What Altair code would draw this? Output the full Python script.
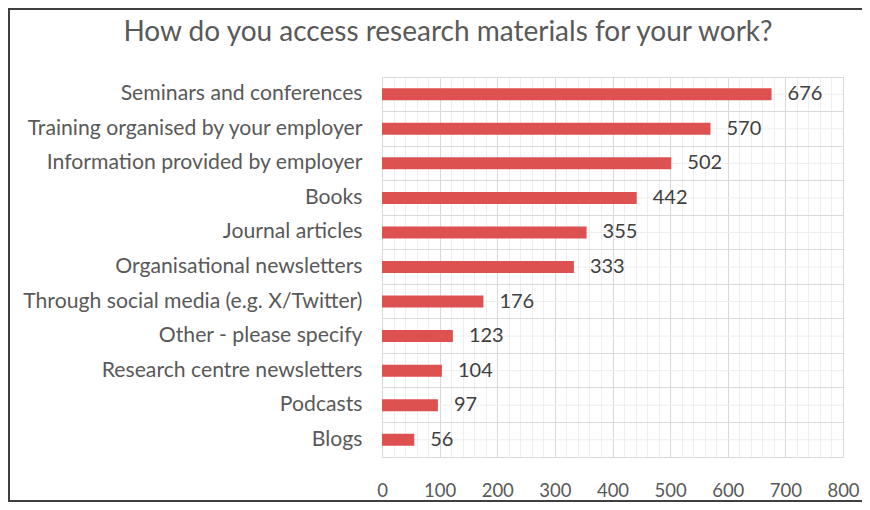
import altair as alt
import pandas as pd

categories = [
    "Seminars and conferences",
    "Training organised by your employer",
    "Information provided by employer",
    "Books",
    "Journal articles",
    "Organisational newsletters",
    "Through social media (e.g. X/Twitter)",
    "Other - please specify",
    "Research centre newsletters",
    "Podcasts",
    "Blogs",
]
values = [676, 570, 502, 442, 355, 333, 176, 123, 104, 97, 56]
x_major_ticks = [0, 100, 200, 300, 400, 500, 600, 700, 800]
x_minor_step = 20
title_text = "How do you access research materials for your work?"

df = pd.DataFrame({"category": categories, "value": values})
x_ticks = [t + k * x_minor_step for t in x_major_ticks[:-1] for k in range(5)] + [x_major_ticks[-1]]

W, H = 461, 380
LEFT, TOP = 374, 69
TOTAL_W, TOTAL_H = 854, 494
FONT = "Lato"
LABEL_COLOR = "#595959"

y_axis = alt.Axis(
    title=None, grid=True, bandPosition=0, gridColor="#dadada", ticks=False,
    domain=False, labelPadding=20, labelFontSize=21.2, labelFont=FONT,
    labelColor=LABEL_COLOR, labelLimit=500,
)
x_axis = alt.Axis(
    title=None, values=x_ticks,
    gridColor={"condition": {"test": "datum.value % 100 === 0", "value": "#d9d9d9"}, "value": "#eeeeee"},
    ticks=False, domainColor="#d9d9d9", labelFlush=False, labelOverlap=False,
    labelExpr="datum.value % 100 === 0 ? datum.label : ''",
    labelPadding=24, labelFontSize=18.5, labelFont=FONT, labelColor=LABEL_COLOR,
)

def y_enc():
    return alt.Y("category:N", sort=categories,
                 scale=alt.Scale(paddingInner=0, paddingOuter=0), axis=y_axis)

def x_enc():
    return alt.X("value:Q", scale=alt.Scale(domain=[0, 800], nice=False), axis=x_axis)

base = alt.Chart(df)

minor_h = base.mark_rule(color="#eeeeee", strokeWidth=1).encode(
    y=y_enc(), x=alt.value(0), x2=alt.value(W)
)

bars = base.mark_bar(color="#dd5150", size=12).encode(y=y_enc(), x=x_enc())

labels = base.mark_text(
    align="left", baseline="middle", dx=16, fontSize=20, font=FONT, color="#404040"
).encode(y=y_enc(), x=x_enc(), text=alt.Text("value:Q"))

title_df = pd.DataFrame({"t": [title_text]})
title = alt.Chart(title_df).mark_text(
    align="center", baseline="middle", fontSize=28, font=FONT, color=LABEL_COLOR
).encode(text="t:N", x=alt.value(448 - 382), y=alt.value(33 - 77))

BORDER = "#3f3f3f"
def edge(x1, x2, y1, y2):
    return alt.Chart(title_df).mark_rect(color=BORDER, strokeWidth=0).encode(
        x=alt.value(x1), x2=alt.value(x2), y=alt.value(y1), y2=alt.value(y2)
    )

border_top = edge(-LEFT, TOTAL_W - LEFT + 20, -TOP, -TOP + 2)
border_bottom = edge(-LEFT, TOTAL_W - LEFT + 20, TOTAL_H - TOP - 2, TOTAL_H - TOP)
border_left = edge(-LEFT, -LEFT + 2, -TOP, TOTAL_H - TOP)

chart = alt.layer(minor_h, bars, labels, title, border_top, border_bottom, border_left).properties(
    width=W, height=H,
    autosize=alt.AutoSizeParams(type="none"),
    padding={"left": LEFT, "top": TOP, "right": TOTAL_W - LEFT - W, "bottom": TOTAL_H - TOP - H},
).configure_view(stroke=None).configure(background="white")

chart.save("out.html", embed_options={"renderer": "svg", "actions": False})
